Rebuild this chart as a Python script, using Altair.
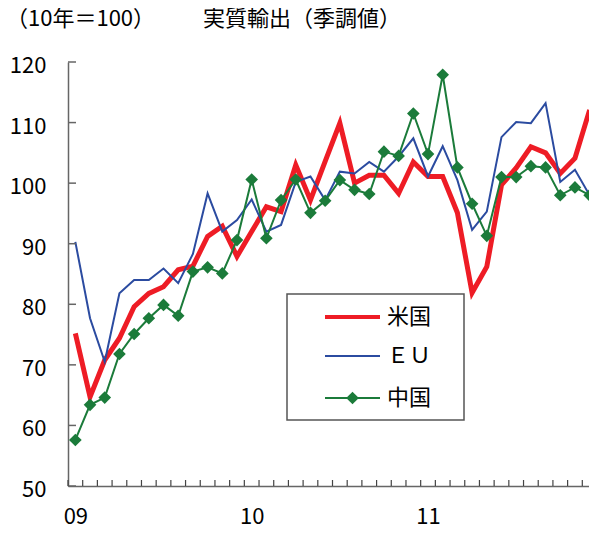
import altair as alt
import pandas as pd

# ---- data (Jan 2009 .. Dec 2011, monthly) ----
months = list(range(36))
year_labels = ["09", "10", "11"]
year_pos = [0, 12, 24]
series_names = ["米国", "ＥＵ", "中国"]
us = [75.2, 64.7, 70.8, 74.4, 79.6, 81.8, 82.9, 85.7, 86.3, 91.2, 92.9, 87.9,
      92.0, 96.1, 95.3, 103.0, 97.2, 103.6, 109.9, 100.0, 101.3, 101.3, 98.3, 103.5,
      101.1, 101.1, 95.1, 81.9, 86.2, 99.7, 102.5, 106.0, 105.0, 101.6, 104.1, 112.1]
eu = [90.3, 77.7, 70.5, 81.8, 84.0, 84.0, 85.9, 83.5, 88.3, 98.3, 92.0, 93.9,
      97.3, 92.0, 93.1, 100.2, 101.1, 97.2, 101.9, 101.6, 103.5, 101.9, 104.4, 107.4,
      101.1, 106.1, 100.5, 92.3, 95.3, 107.6, 110.1, 109.9, 113.2, 100.2, 102.2, 98.0]
cn = [57.6, 63.4, 64.6, 71.8, 75.1, 77.7, 79.9, 78.1, 85.4, 86.1, 85.1, 90.6,
      100.6, 90.9, 97.2, 100.6, 95.1, 97.1, 100.5, 98.9, 98.2, 105.2, 104.5, 111.5,
      104.8, 117.9, 102.6, 96.6, 91.3, 101.0, 101.0, 102.8, 102.6, 98.0, 99.3, 98.0]
y_ticks = [50, 60, 70, 80, 90, 100, 110, 120]
title_left = ["（10年＝100）"]
title_main = ["実質輸出（季調値）"]

FONT = "Noto Sans CJK JP"
colors = ["#EE1C25", "#2B4BA0", "#1B7B3A"]
widths = [5, 2, 2]
AX = "#666666"

W, H = 529, 424

df = pd.concat([
    pd.DataFrame({"month": months, "value": vals, "series": name})
    for vals, name in zip([us, eu, cn], series_names)
])

xscale = alt.Scale(domain=[-0.5, 35.5], nice=False, zero=False)
yscale = alt.Scale(domain=[50, 120], nice=False, zero=False)

label_arr = "[" + ",".join("'%s'" % s for s in year_labels) + "]"
x_axis = alt.Axis(values=year_pos, labelExpr=label_arr + "[datum.value/12]",
                  ticks=False, grid=False, title=None, domainColor=AX, domainWidth=1.5,
                  labelFont=FONT, labelFontSize=22, labelColor="black", labelPadding=20)
y_axis = alt.Axis(values=y_ticks, ticks=False, grid=False, title=None,
                  domainColor=AX, domainWidth=1.5, labelFont=FONT, labelFontSize=22,
                  labelColor="black", labelPadding=22, labelOffset=3.5)


def X(field):
    return alt.X(field, scale=xscale, axis=x_axis)


def Y(field):
    return alt.Y(field, scale=yscale, axis=y_axis)


base = alt.Chart(df)
layers = []
for i, name in enumerate(series_names):
    layers.append(
        base.transform_filter(alt.datum.series == name)
        .mark_line(color=colors[i], strokeWidth=widths[i], strokeJoin="miter")
        .encode(x=X("month:Q"), y=Y("value:Q"))
    )
layers.append(
    base.transform_filter(alt.datum.series == series_names[2])
    .mark_point(shape="diamond", filled=True, size=160, color=colors[2], opacity=1)
    .encode(x=X("month:Q"), y=Y("value:Q"))
)

# inward ticks
ytick_df = pd.DataFrame({"value": y_ticks})
layers.append(
    alt.Chart(ytick_df).mark_rule(color=AX, strokeWidth=1.5)
    .encode(y=Y("value:Q"), x=alt.value(0), x2=alt.value(8))
)
xtick_df = pd.DataFrame({"month": [m - 0.5 for m in months] + [35.5]})
layers.append(
    alt.Chart(xtick_df).mark_rule(color="#444444", strokeWidth=1.2)
    .encode(x=X("month:Q"), y=alt.value(H), y2=alt.value(H - 6))
)

# titles
layers.append(
    alt.Chart(pd.DataFrame({"t": title_left})).mark_text(
        align="left", baseline="middle", font=FONT, fontSize=22, color="black")
    .encode(x=alt.value(-62), y=alt.value(-43), text="t:N")
)
layers.append(
    alt.Chart(pd.DataFrame({"t": title_main})).mark_text(
        align="left", baseline="middle", font=FONT, fontSize=22, color="black")
    .encode(x=alt.value(135), y=alt.value(-43), text="t:N")
)

# legend box
one = pd.DataFrame({"k": [0]})
layers.append(
    alt.Chart(one).mark_rect(fill="white", stroke="#555555", strokeWidth=1.5)
    .encode(x=alt.value(219), x2=alt.value(396), y=alt.value(232), y2=alt.value(358))
)
leg_y = [255, 294, 336]
for i, name in enumerate(series_names):
    layers.append(
        alt.Chart(one).mark_rule(color=colors[i], strokeWidth=widths[i] - (1 if i == 0 else 0))
        .encode(x=alt.value(257), x2=alt.value(312), y=alt.value(leg_y[i]))
    )
    layers.append(
        alt.Chart(pd.DataFrame({"t": [name]})).mark_text(
            align="left", baseline="middle", font=FONT, fontSize=22, color="black")
        .encode(x=alt.value(319), y=alt.value(leg_y[i]), text="t:N")
    )
layers.append(
    alt.Chart(one).mark_point(shape="diamond", filled=True, size=160, color=colors[2], opacity=1)
    .encode(x=alt.value(284.5), y=alt.value(leg_y[2]))
)

chart = alt.layer(*layers).properties(
    width=W, height=H,
    autosize=alt.AutoSizeParams(type="none"),
    padding={"left": 60, "top": 54, "right": -8, "bottom": 41},
).configure_view(stroke=None)
chart.save("out.html", embed_options={"renderer": "svg", "actions": False})
